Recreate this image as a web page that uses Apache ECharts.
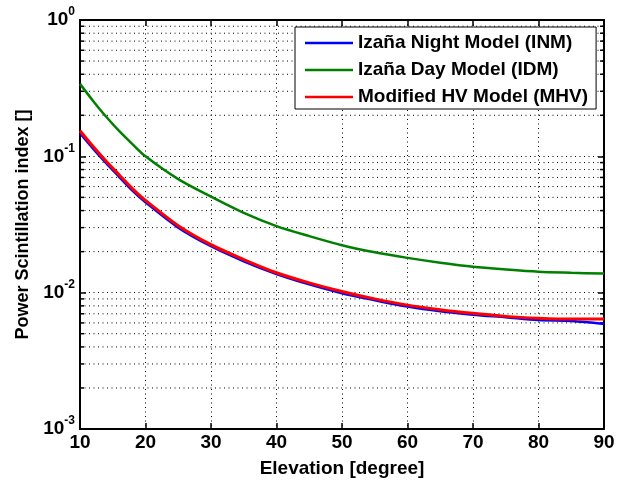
<!DOCTYPE html>
<html><head><meta charset="utf-8">
<script src="https://cdn.jsdelivr.net/npm/echarts@6/dist/echarts.min.js"></script>
<style>html,body{margin:0;padding:0;background:#fff}#c{width:630px;height:483px}</style>
</head><body><div id="c"></div>
<script>
const elevation = [10,12,14,16,18,20,25,30,35,40,45,50,55,60,65,70,75,80,85,90];
const inm = [0.148,0.114,0.089,0.0705,0.056,0.046,0.030,0.0219,0.017,0.0137,0.0115,0.0099,0.0088,0.0079,0.0073,0.0069,0.0066,0.0063,0.0062,0.0059];
const idm = [0.34,0.255,0.195,0.153,0.123,0.100,0.068,0.0506,0.0385,0.0308,0.026,0.0223,0.0198,0.018,0.0166,0.0155,0.0148,0.01425,0.0140,0.0138];
const mhv = [0.154,0.118,0.092,0.073,0.058,0.0475,0.031,0.0225,0.0175,0.014,0.0118,0.0102,0.009,0.0081,0.0075,0.00705,0.0067,0.0065,0.0064,0.0064];
const seriesNames = ['Izaña Night Model (INM)','Izaña Day Model (IDM)','Modified HV Model (MHV)'];
const xLabel = 'Elevation [degree]';
const yLabel = 'Power Scintillation index []';
const minorY = [];
[0.001,0.01,0.1].forEach(d=>{for(let k=2;k<=9;k++) minorY.push(+(d*k).toPrecision(3));});

const F = 'Liberation Sans, Arial, Helvetica, sans-serif';
const chart = echarts.init(document.getElementById('c'));
const axisLine = {show:true, onZero:false, lineStyle:{color:'#000', width:2}};
const tick = {show:true, inside:true, length:6, lineStyle:{color:'#000', width:1.5}};
const split = {show:true, lineStyle:{color:'#000', type:[1,3.5], width:1}};
const pair = (a)=>elevation.map((x,i)=>[x,a[i]]);
chart.setOption({
  animation:false,
  backgroundColor:'#fff',
  grid:{left:80, right:26, top:20, bottom:54},
  legend:{
    orient:'vertical', left:295, top:27,
    backgroundColor:'#fff', borderColor:'#000', borderWidth:1,
    padding:[6,8,2,10], itemGap:7, itemWidth:48, itemHeight:2.5, icon:'rect',
    textStyle:{fontFamily:F, fontWeight:'bold', fontSize:19, lineHeight:20, color:'#000'},
    data:seriesNames
  },
  xAxis:[{
    type:'value', min:10, max:90, interval:10,
    name:xLabel, nameLocation:'middle', nameGap:30,
    nameTextStyle:{fontFamily:F, fontWeight:'bold', fontSize:19, color:'#000'},
    axisLine, axisTick:tick, splitLine:split,
    axisLabel:{fontFamily:F, fontWeight:'bold', fontSize:19, color:'#000', margin:4}
  },{
    type:'value', min:10, max:90, interval:10, position:'top',
    axisLine, axisTick:tick, splitLine:{show:false}, axisLabel:{show:false}
  }],
  yAxis:[{
    type:'log', logBase:10, min:0.001, max:1,
    name:yLabel, nameLocation:'middle', nameGap:46, nameRotate:90,
    nameTextStyle:{fontFamily:F, fontWeight:'bold', fontSize:18, color:'#000'},
    axisLine, axisTick:tick, splitLine:split,
    axisLabel:{
      margin:5, color:'#000',
      formatter:(v)=>'{b|10}{s|'+Math.round(Math.log10(v))+'}',
      rich:{
        b:{fontFamily:F, fontWeight:'bold', fontSize:19, color:'#000'},
        s:{fontFamily:F, fontWeight:'bold', fontSize:12, color:'#000', verticalAlign:'top', padding:[0,0,16,0]}
      }
    }
  },{
    type:'log', logBase:10, min:0.001, max:1, position:'right',
    axisLine, axisTick:tick, splitLine:{show:false}, axisLabel:{show:false}
  }],
  series:[
    {type:'custom', silent:true, z:1, data:minorY.map(v=>[10,v]), encode:{x:0,y:1},
     renderItem:(params, api)=>{
       const v = api.value(1);
       const p0 = api.coord([10, v]);
       const p1 = api.coord([90, v]);
       return {type:'group', children:[
         {type:'line', shape:{x1:p0[0], y1:p0[1], x2:p1[0], y2:p1[1]}, style:{stroke:'#000', lineWidth:1, lineDash:[1,3.5]}},
         {type:'line', shape:{x1:p0[0], y1:p0[1], x2:p0[0]+4, y2:p0[1]}, style:{stroke:'#000', lineWidth:1.5}},
         {type:'line', shape:{x1:p1[0]-4, y1:p1[1], x2:p1[0], y2:p1[1]}, style:{stroke:'#000', lineWidth:1.5}}
       ]};
     }},
    {name:seriesNames[0], type:'line', data:pair(inm), smooth:0.3, symbol:'none', z:3, lineStyle:{color:'#0000ff', width:2.5}, itemStyle:{color:'#0000ff'}},
    {name:seriesNames[1], type:'line', data:pair(idm), smooth:0.3, symbol:'none', z:3, lineStyle:{color:'#008000', width:2.5}, itemStyle:{color:'#008000'}},
    {name:seriesNames[2], type:'line', data:pair(mhv), smooth:0.3, symbol:'none', z:4, lineStyle:{color:'#ff0000', width:3}, itemStyle:{color:'#ff0000'}}
  ]
});
</script></body></html>
